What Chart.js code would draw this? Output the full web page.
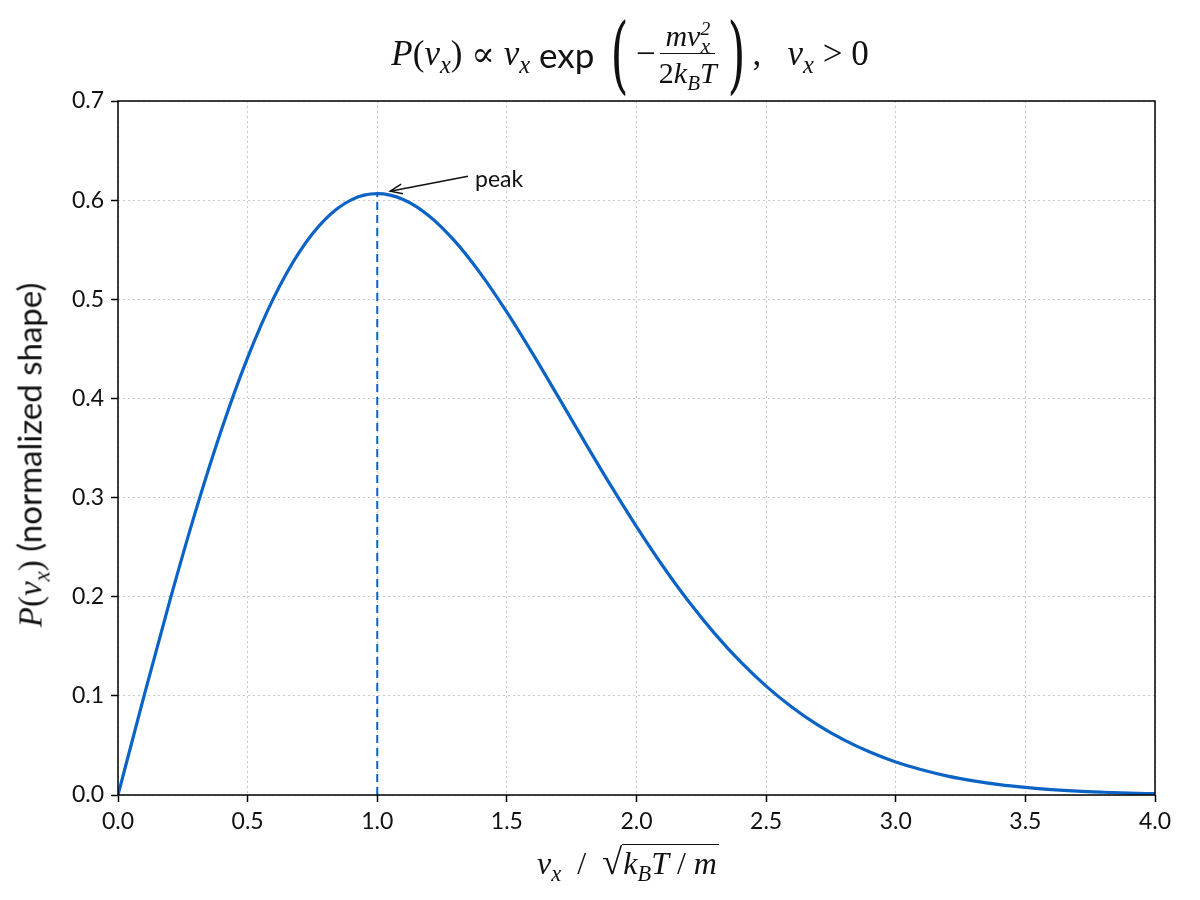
<!DOCTYPE html>
<html>
<head>
<meta charset="utf-8">
<script src="https://cdn.jsdelivr.net/npm/chart.js@4.4.1/dist/chart.umd.min.js"></script>
<style>
  html, body { margin: 0; padding: 0; background: #fff; }
  #wrap { position: relative; width: 1200px; height: 900px; }
  #grafico { position: absolute; left: 0; top: 0; }
  .m { font-family: "Liberation Serif", "DejaVu Serif", serif; font-style: italic; }
  .r { font-family: "Liberation Serif", "DejaVu Serif", serif; font-style: normal; }
  .s { font-family: Lato, "Open Sans", sans-serif; font-style: normal; }
  sub, sup { font-size: 0.7em; line-height: 0; }
  #titulo {
    position: absolute; left: 0; width: 1200px; top: 12px; text-align: center;
    font-size: 35px; white-space: nowrap; color: #111;
  }
  #titulo .linha { display: inline-flex; align-items: center; margin-left: 60px; }
  .paren { font-size: 84px; font-family: "DejaVu Serif", serif; font-weight: 200; transform: scaleX(0.55); display: inline-block; line-height: 1; }
  .frac { display: inline-flex; flex-direction: column; align-items: center; font-size: 30px; margin: 0 3px; }
  .frac .num { border-bottom: 1.5px solid #111; padding: 0 5px 1px; line-height: 1.1; }
  .frac .den { padding-top: 2px; line-height: 1.1; }
  #rotuloX {
    position: absolute; left: 0; width: 1200px; top: 840px; text-align: center;
    font-size: 32px; color: #111; white-space: nowrap; margin-left: 28px;
  }
  .raiz { border-top: 1.5px solid #111; padding: 0 2px 0 1px; }
  .sqrt { font-size: 1.15em; }
  #rotuloY {
    position: absolute; left: 29px; top: 455px; transform: translate(-50%, -50%) rotate(-90deg);
    font-size: 33px; color: #111; white-space: nowrap;
  }
</style>
</head>
<body>
<div id="wrap">
  <canvas id="grafico" width="1200" height="900"></canvas>
  <div id="titulo"><span class="linha">
    <span class="m">P</span><span class="r">(</span><span class="m">v<sub>x</sub></span><span class="r">)</span>
    <span class="r">&nbsp;∝&nbsp;</span><span class="m">v<sub>x</sub></span><span class="s">&nbsp;exp&nbsp;</span>
    <span class="paren">(</span><span class="r">−</span>
    <span class="frac"><span class="num m">mv<sup style="font-size:0.65em">2</sup><sub style="margin-left:-0.45em">x</sub></span><span class="den m"><span class="r">2</span>k<sub>B</sub>T</span></span>
    <span class="paren">)</span><span class="r">,&nbsp;&nbsp;&nbsp;</span><span class="m">v<sub>x</sub></span><span class="r">&nbsp;&gt;&nbsp;0</span>
  </span></div>
  <div id="rotuloX"><span class="m">v<sub>x</sub></span><span class="r">&nbsp;&nbsp;/&nbsp;&nbsp;</span><span class="r sqrt">√</span><span class="raiz m">k<sub>B</sub>T<span class="r"> / </span>m</span></div>
  <div id="rotuloY"><span class="m">P</span><span class="r">(</span><span class="m">v<sub>x</sub></span><span class="r">)</span><span class="s"> (normalized shape)</span></div>
</div>
<script>
// Dados
const velocidades = [0.0, 0.1, 0.2, 0.3, 0.4, 0.5, 0.6, 0.7, 0.8, 0.9,
                     1.0, 1.1, 1.2, 1.3, 1.4, 1.5, 1.6, 1.7, 1.8, 1.9,
                     2.0, 2.1, 2.2, 2.3, 2.4, 2.5, 2.6, 2.7, 2.8, 2.9,
                     3.0, 3.1, 3.2, 3.3, 3.4, 3.5, 3.6, 3.7, 3.8, 3.9, 4.0];
const densidade = [0.0000, 0.0995, 0.1960, 0.2868, 0.3692, 0.4412, 0.5012, 0.5479, 0.5809, 0.6003,
                   0.6065, 0.6007, 0.5841, 0.5584, 0.5254, 0.4870, 0.4449, 0.4008, 0.3562, 0.3125,
                   0.2707, 0.2315, 0.1956, 0.1633, 0.1347, 0.1098, 0.0885, 0.0705, 0.0556, 0.0433,
                   0.0333, 0.0254, 0.0191, 0.0143, 0.0105, 0.0077, 0.0055, 0.0039, 0.0028, 0.0019, 0.0013];
const picoX = [1.0, 1.0];
const picoY = [0.0, 0.6065];
const ticksX = [0.0, 0.5, 1.0, 1.5, 2.0, 2.5, 3.0, 3.5, 4.0];
const ticksY = [0.0, 0.1, 0.2, 0.3, 0.4, 0.5, 0.6, 0.7];
// Anotação "peak": ponta da seta e posição do texto (coordenadas de dados)
const setaPonta = [1.05, 0.609];
const setaCauda = [1.35, 0.624];
const textoPico = "peak";

const azul = "#0b63c5";
const fonteTicks = { family: "Lato", size: 23 };

// Moldura e anotação desenhadas depois do gráfico
const pluginExtra = {
    id: "extra",
    afterDraw(chart) {
        const ctx = chart.ctx;
        const a = chart.chartArea;
        const sx = chart.scales.x, sy = chart.scales.y;
        ctx.save();
        ctx.strokeStyle = "#000";
        ctx.lineWidth = 1.5;
        ctx.setLineDash([]);
        ctx.strokeRect(a.left, a.top, a.right - a.left, a.bottom - a.top);

        const x1 = sx.getPixelForValue(setaCauda[0]), y1 = sy.getPixelForValue(setaCauda[1]);
        const x2 = sx.getPixelForValue(setaPonta[0]), y2 = sy.getPixelForValue(setaPonta[1]);
        ctx.strokeStyle = "#111";
        ctx.lineWidth = 1.5;
        ctx.beginPath();
        ctx.moveTo(x1, y1);
        ctx.lineTo(x2, y2);
        ctx.stroke();
        const ang = Math.atan2(y2 - y1, x2 - x1);
        const L = 13, W = 0.38;
        ctx.beginPath();
        ctx.moveTo(x2 - L * Math.cos(ang - W), y2 - L * Math.sin(ang - W));
        ctx.lineTo(x2, y2);
        ctx.lineTo(x2 - L * Math.cos(ang + W), y2 - L * Math.sin(ang + W));
        ctx.stroke();

        ctx.fillStyle = "#111";
        ctx.font = "23px Lato, 'Open Sans', sans-serif";
        ctx.textBaseline = "middle";
        ctx.textAlign = "left";
        ctx.fillText(textoPico, x1 + 7, y1 + 3);
        ctx.restore();
    }
};

const ctx = document.getElementById("grafico").getContext("2d");

new Chart(ctx, {
    type: "line",
    data: {
        datasets: [
            {
                label: "P(vx)",
                data: velocidades.map((v, i) => ({ x: v, y: densidade[i] })),
                borderColor: azul,
                borderWidth: 3.2,
                pointRadius: 0,
                cubicInterpolationMode: "monotone",
                fill: false
            },
            {
                label: "pico",
                data: picoX.map((v, i) => ({ x: v, y: picoY[i] })),
                borderColor: azul,
                borderWidth: 2,
                borderDash: [8, 5],
                pointRadius: 0,
                fill: false
            }
        ]
    },
    options: {
        responsive: false,
        animation: false,
        layout: { padding: { left: 0, top: 101, right: 45, bottom: 0 } },
        plugins: {
            legend: { display: false },
            tooltip: { enabled: false }
        },
        scales: {
            x: {
                type: "linear",
                min: 0,
                max: 4,
                afterBuildTicks: s => { s.ticks = ticksX.map(v => ({ value: v })); },
                afterFit: s => { s.height = 105; },
                ticks: {
                    color: "#111",
                    font: fonteTicks,
                    padding: 6,
                    maxRotation: 0,
                    callback: v => v.toFixed(1)
                },
                grid: {
                    color: "#c8c8c8",
                    lineWidth: 1,
                    tickLength: 7,
                    tickColor: "#000",
                    tickWidth: 1.5
                },
                border: { display: false, dash: [2, 3] }
            },
            y: {
                type: "linear",
                min: 0,
                max: 0.7,
                afterBuildTicks: s => { s.ticks = ticksY.map(v => ({ value: v })); },
                afterFit: s => { s.width = 118; },
                ticks: {
                    color: "#111",
                    font: fonteTicks,
                    padding: 7,
                    callback: v => v.toFixed(1)
                },
                grid: {
                    color: "#c8c8c8",
                    lineWidth: 1,
                    tickLength: 7,
                    tickColor: "#000",
                    tickWidth: 1.5
                },
                border: { display: false, dash: [2, 3] }
            }
        }
    },
    plugins: [pluginExtra]
});
</script>
</body>
</html>
